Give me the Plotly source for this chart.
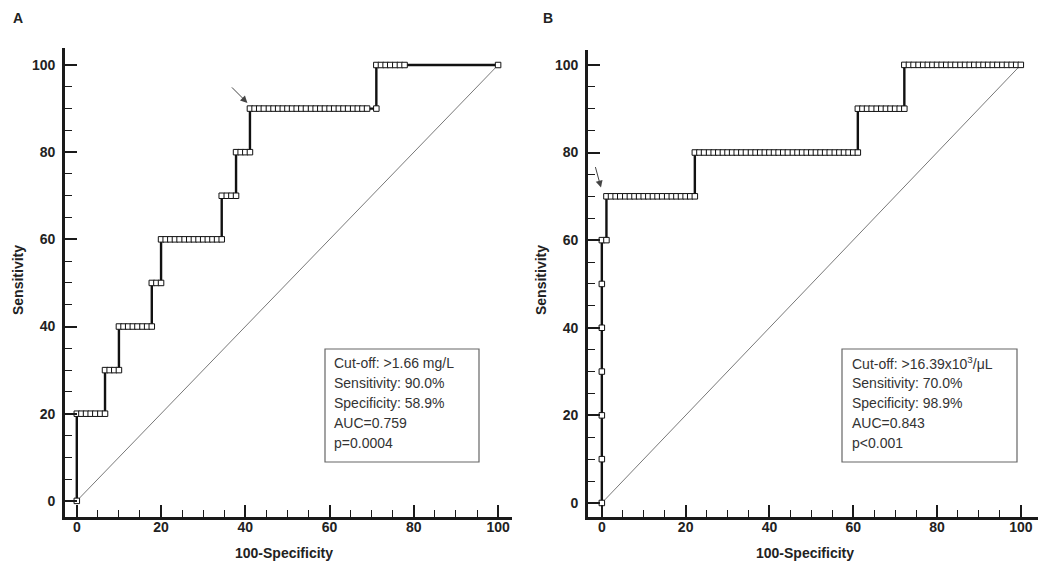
import plotly.graph_objects as go

W, H = 1040, 564

# ---------------- data ----------------
# Panel A: sensitivity levels and the 100-specificity values of ROC points at each level
levels_A = [0, 20, 30, 40, 50, 60, 70, 80, 90, 100]
fpr_by_level_A = [
    [0],
    [0, 1.1, 2.2, 3.3, 4.4, 5.6, 6.7],
    [6.7, 7.8, 8.9, 10.0],
    [10.0, 11.1, 12.2, 13.3, 14.4, 15.6, 16.7, 17.8],
    [17.8, 18.9, 20.0],
    [20.0, 21.1, 22.2, 23.3, 24.4, 25.6, 26.7, 27.8, 28.9, 30.0, 31.1, 32.2, 33.3, 34.4],
    [34.4, 35.6, 36.7, 37.8],
    [37.8, 38.9, 40.0, 41.1],
    [41.1, 42.2, 43.3, 44.4, 45.6, 46.7, 47.8, 48.9, 50.0, 51.1, 52.2, 53.3, 54.4, 55.6,
     56.7, 57.8, 58.9, 60.0, 61.1, 62.2, 63.3, 64.4, 65.6, 66.7, 67.8, 68.9, 71.1],
    [71.1, 72.2, 73.3, 74.4, 75.6, 76.7, 77.8, 100],
]

# Panel B
levels_B = [0, 10, 20, 30, 40, 50, 60, 70, 80, 90, 100]
fpr_by_level_B = [
    [0],
    [0],
    [0],
    [0],
    [0],
    [0],
    [0, 1.1],
    [1.1, 2.2, 3.3, 4.4, 5.6, 6.7, 7.8, 8.9, 10.0, 11.1, 12.2, 13.3, 14.4, 15.6, 16.7,
     17.8, 18.9, 20.0, 21.1, 22.2],
    [22.2, 23.3, 24.4, 25.6, 26.7, 27.8, 28.9, 30.0, 31.1, 32.2, 33.3, 34.4, 35.6, 36.7,
     37.8, 38.9, 40.0, 41.1, 42.2, 43.3, 44.4, 45.6, 46.7, 47.8, 48.9, 50.0, 51.1, 52.2,
     53.3, 54.4, 55.6, 56.7, 57.8, 58.9, 60.0, 61.1],
    [61.1, 62.2, 63.3, 64.4, 65.6, 66.7, 67.8, 68.9, 70.0, 71.1, 72.2],
    [72.2, 73.3, 74.4, 75.6, 76.7, 77.8, 78.9, 80.0, 81.1, 82.2, 83.3, 84.4, 85.6, 86.7,
     87.8, 88.9, 90.0, 91.1, 92.2, 93.3, 94.4, 95.6, 96.7, 97.8, 98.9, 100.0],
]

diag = [0, 100]
tick_vals = [0, 20, 40, 60, 80, 100]

box_text_A = ["Cut-off: >1.66 mg/L", "Sensitivity: 90.0%", "Specificity: 58.9%",
              "AUC=0.759", "p=0.0004"]
box_text_B = ["Cut-off: >16.39x10<sup>3</sup>/\u03bcL", "Sensitivity: 70.0%",
              "Specificity: 98.9%", "AUC=0.843", "p<0.001"]

cutoff_A = (41.1, 90)
cutoff_B = (0, 70)


def build(levels, fprs):
    xs, ys = [], []
    for lv, fl in zip(levels, fprs):
        for f in fl:
            xs.append(f)
            ys.append(lv)
    return xs, ys


xA, yA = build(levels_A, fpr_by_level_A)
xB, yB = build(levels_B, fpr_by_level_B)

fig = go.Figure()

AX = "#1a1a1a"
TXT = "#222222"

for xs, ys, xa, ya in [(xA, yA, "x", "y"), (xB, yB, "x2", "y2")]:
    fig.add_trace(go.Scatter(x=diag, y=diag, mode="lines", xaxis=xa, yaxis=ya,
                             line=dict(color="#555555", width=0.8), hoverinfo="skip",
                             showlegend=False))
    fig.add_trace(go.Scatter(x=xs, y=ys, mode="lines", xaxis=xa, yaxis=ya,
                             line=dict(color="#111111", width=2.4), showlegend=False))
    fig.add_trace(go.Scatter(x=xs, y=ys, mode="markers", xaxis=xa, yaxis=ya,
                             marker=dict(symbol="square", size=5.5, color="white",
                                         line=dict(color="#111111", width=1)),
                             showlegend=False))


def px_x(p):
    return p / W


def px_y(p):
    return 1 - p / H


axis_common = dict(
    showline=True, linecolor=AX, linewidth=2.8, mirror=False,
    showgrid=False, zeroline=False,
    ticks="inside", ticklen=12, tickwidth=2.2, tickcolor=AX,
    tickvals=tick_vals,
    tickfont=dict(family="Liberation Sans, Arial", size=14, color=TXT, weight="bold"),
    minor=dict(ticks="inside", ticklen=7, tickwidth=1.3, tickcolor=AX, dtick=5),
    fixedrange=True,
)

fig.update_layout(
    width=W, height=H,
    margin=dict(l=0, r=0, t=0, b=0),
    paper_bgcolor="white", plot_bgcolor="white",
    xaxis=dict(domain=[px_x(65), px_x(512)], range=[-2.8, 103.3], anchor="y",
               ticklabelstandoff=-5, **axis_common),
    yaxis=dict(domain=[px_y(517), px_y(48)], range=[-3.7, 103.9], anchor="x",
               ticklabelstandoff=4, **axis_common),
    xaxis2=dict(domain=[px_x(588), px_x(1038)], range=[-3.3, 104.1], anchor="y2",
                ticklabelstandoff=-5, **axis_common),
    yaxis2=dict(domain=[px_y(517), px_y(50)], range=[-3.2, 103.4], anchor="x2",
                ticklabelstandoff=4, **axis_common),
    showlegend=False,
)

ann = []
font_lbl = dict(family="Liberation Sans, Arial", size=14, color=TXT, weight="bold")
# panel letters
ann.append(dict(text="A", x=px_x(18), y=px_y(18), xref="paper", yref="paper",
                showarrow=False, font=font_lbl, xanchor="center", yanchor="middle"))
ann.append(dict(text="B", x=px_x(548), y=px_y(18), xref="paper", yref="paper",
                showarrow=False, font=font_lbl, xanchor="center", yanchor="middle"))
# axis titles
for cx in (284, 805):
    ann.append(dict(text="100-Specificity", x=px_x(cx), y=px_y(553), xref="paper",
                    yref="paper", showarrow=False, font=font_lbl,
                    xanchor="center", yanchor="middle"))
for cx in (18, 541):
    ann.append(dict(text="Sensitivity", x=px_x(cx), y=px_y(280), xref="paper",
                    yref="paper", showarrow=False, font=font_lbl, textangle=-90,
                    xanchor="center", yanchor="middle"))

# text boxes
shapes = []
font_box = dict(family="Liberation Sans, Arial", size=14, color="#333333")
for (bx0, by0, bx1, by1, tx), lines in [((325, 349, 479, 462, 332), box_text_A),
                                          ((842, 349, 1017, 462, 850), box_text_B)]:
    shapes.append(dict(type="rect", xref="paper", yref="paper",
                       x0=px_x(bx0), x1=px_x(bx1), y0=px_y(by1), y1=px_y(by0),
                       line=dict(color="#666666", width=1.2), fillcolor="white"))
    for i, t in enumerate(lines):
        ann.append(dict(text=t, x=px_x(tx), y=px_y(363 + i * 20), xref="paper",
                        yref="paper", showarrow=False, font=font_box,
                        xanchor="left", yanchor="middle"))

# cut-off arrows
ann.append(dict(text="", x=cutoff_A[0] - 0.6, y=cutoff_A[1] + 1.3, xref="x", yref="y",
                showarrow=True, ax=-17, ay=-17, arrowhead=2, arrowsize=1.4,
                arrowwidth=1, arrowcolor="#444444", standoff=0))
ann.append(dict(text="", x=cutoff_B[0] - 0.2, y=cutoff_B[1] + 2.0, xref="x2", yref="y2",
                showarrow=True, ax=-6, ay=-22, arrowhead=2, arrowsize=1.4,
                arrowwidth=1, arrowcolor="#444444", standoff=0))

fig.update_layout(annotations=ann, shapes=shapes)

fig.write_html("out.html", config={"displayModeBar": False},
               post_script="document.body.style.margin='0';document.body.style.overflow='hidden';")
